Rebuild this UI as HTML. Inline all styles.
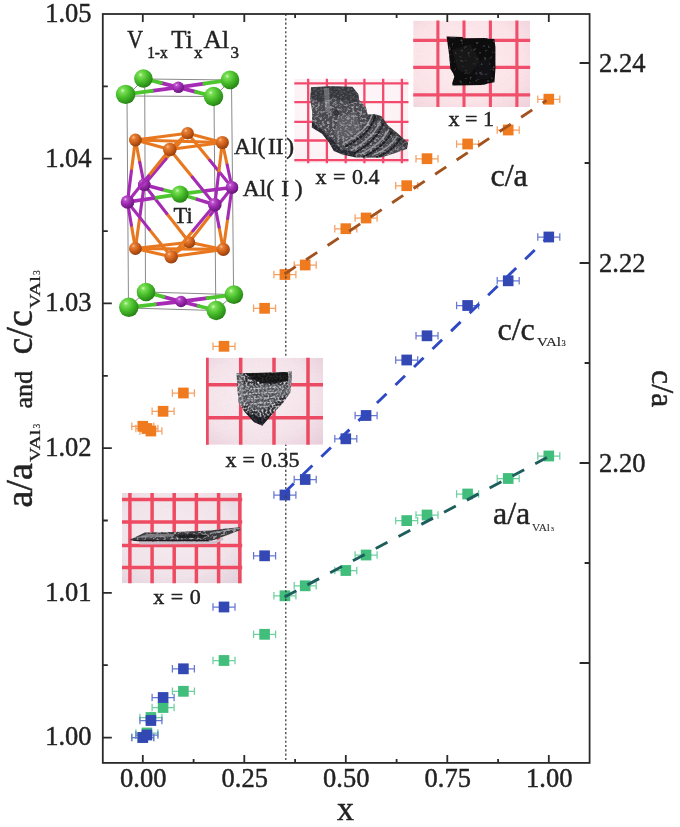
<!DOCTYPE html>
<html><head><meta charset="utf-8"><title>V1-xTixAl3 lattice parameters</title>
<style>html,body{margin:0;padding:0;background:#fff}body{width:680px;height:827px;overflow:hidden;font-family:"Liberation Serif",serif}svg{display:block;filter:blur(0.45px)}text{stroke:#222;stroke-width:0.45px;paint-order:stroke}</style>
</head><body>
<svg width="680" height="827" viewBox="0 0 680 827">
<defs>
<radialGradient id="sg_g" cx="0.35" cy="0.3" r="0.78"><stop offset="0" stop-color="#d4fbc2"/><stop offset="0.14" stop-color="#7adf55"/><stop offset="0.5" stop-color="#46bb29"/><stop offset="0.85" stop-color="#2b8e18"/><stop offset="1" stop-color="#1e6c10"/></radialGradient>
<radialGradient id="sg_p" cx="0.35" cy="0.3" r="0.78"><stop offset="0" stop-color="#edc0f2"/><stop offset="0.16" stop-color="#bb4fcb"/><stop offset="0.5" stop-color="#9a28ad"/><stop offset="0.85" stop-color="#701a82"/><stop offset="1" stop-color="#4f105c"/></radialGradient>
<radialGradient id="sg_o" cx="0.35" cy="0.3" r="0.78"><stop offset="0" stop-color="#fbc79a"/><stop offset="0.16" stop-color="#e98238"/><stop offset="0.5" stop-color="#cf611a"/><stop offset="0.85" stop-color="#9f440f"/><stop offset="1" stop-color="#76300a"/></radialGradient>

<filter id="soft" x="-5%" y="-5%" width="110%" height="110%"><feGaussianBlur stdDeviation="0.65"/></filter>
<filter id="soft2" x="-5%" y="-5%" width="110%" height="110%"><feGaussianBlur stdDeviation="0.55"/></filter>
<filter id="grain" x="0" y="0" width="100%" height="100%"><feTurbulence type="fractalNoise" baseFrequency="0.9" numOctaves="2" seed="9" result="n"/><feColorMatrix in="n" type="matrix" values="0 0 0 0 0.6  0 0 0 0 0.4  0 0 0 0 0.5  1.6 0 0 0 -0.45" result="g"/><feComposite in="g" in2="SourceGraphic" operator="in"/></filter>
<filter id="texA" x="-5%" y="-5%" width="110%" height="110%"><feGaussianBlur in="SourceGraphic" stdDeviation="0.55" result="s"/><feTurbulence type="fractalNoise" baseFrequency="0.3 0.5" numOctaves="3" seed="4" result="n"/><feColorMatrix in="n" type="matrix" values="0 0 0 0 0.55  0 0 0 0 0.55  0 0 0 0 0.5700000000000001  2.6 0 0 0 -1.3" result="g"/><feComposite in="g" in2="s" operator="in" result="t"/><feMerge><feMergeNode in="s"/><feMergeNode in="t"/></feMerge></filter><filter id="texB" x="-5%" y="-5%" width="110%" height="110%"><feGaussianBlur in="SourceGraphic" stdDeviation="0.55" result="s"/><feTurbulence type="fractalNoise" baseFrequency="0.5" numOctaves="3" seed="7" result="n"/><feColorMatrix in="n" type="matrix" values="0 0 0 0 0.75  0 0 0 0 0.75  0 0 0 0 0.77  3.0 0 0 0 -1.4" result="g"/><feComposite in="g" in2="s" operator="in" result="t"/><feMerge><feMergeNode in="s"/><feMergeNode in="t"/></feMerge></filter><filter id="texC" x="-5%" y="-5%" width="110%" height="110%"><feGaussianBlur in="SourceGraphic" stdDeviation="0.55" result="s"/><feTurbulence type="fractalNoise" baseFrequency="0.4 0.45" numOctaves="3" seed="11" result="n"/><feColorMatrix in="n" type="matrix" values="0 0 0 0 0.5  0 0 0 0 0.5  0 0 0 0 0.52  2.2 0 0 0 -1.08" result="g"/><feComposite in="g" in2="s" operator="in" result="t"/><feMerge><feMergeNode in="s"/><feMergeNode in="t"/></feMerge></filter><filter id="texD" x="-5%" y="-5%" width="110%" height="110%"><feGaussianBlur in="SourceGraphic" stdDeviation="0.55" result="s"/><feTurbulence type="fractalNoise" baseFrequency="0.25" numOctaves="3" seed="2" result="n"/><feColorMatrix in="n" type="matrix" values="0 0 0 0 0.15  0 0 0 0 0.15  0 0 0 0 0.16999999999999998  2.0 0 0 0 -1.25" result="g"/><feComposite in="g" in2="s" operator="in" result="t"/><feMerge><feMergeNode in="s"/><feMergeNode in="t"/></feMerge></filter></defs>
<rect width="680" height="827" fill="#ffffff"/>
<path stroke="#6fd0a0" stroke-width="1.25" fill="none" d="M131.8 737.5H153.8M131.8 733.8V741.2M153.8 733.8V741.2"/>
<path stroke="#6fd0a0" stroke-width="1.25" fill="none" d="M135.9 733H157.9M135.9 729.3V736.7M157.9 729.3V736.7"/>
<path stroke="#6fd0a0" stroke-width="1.25" fill="none" d="M139.9 717.5H161.9M139.9 713.8V721.2M161.9 713.8V721.2"/>
<path stroke="#6fd0a0" stroke-width="1.25" fill="none" d="M152.1 707.5H174.1M152.1 703.8V711.2M174.1 703.8V711.2"/>
<path stroke="#6fd0a0" stroke-width="1.25" fill="none" d="M172.4 691.25H194.4M172.4 687.55V694.95M194.4 687.55V694.95"/>
<path stroke="#6fd0a0" stroke-width="1.25" fill="none" d="M213.0 660.5H235.0M213.0 656.8V664.2M235.0 656.8V664.2"/>
<path stroke="#6fd0a0" stroke-width="1.25" fill="none" d="M253.6 634.25H275.6M253.6 630.55V637.95M275.6 630.55V637.95"/>
<path stroke="#6fd0a0" stroke-width="1.25" fill="none" d="M273.9 595.75H295.9M273.9 592.05V599.45M295.9 592.05V599.45"/>
<path stroke="#6fd0a0" stroke-width="1.25" fill="none" d="M294.2 585.75H316.2M294.2 582.05V589.45M316.2 582.05V589.45"/>
<path stroke="#6fd0a0" stroke-width="1.25" fill="none" d="M334.8 570.5H356.8M334.8 566.8V574.2M356.8 566.8V574.2"/>
<path stroke="#6fd0a0" stroke-width="1.25" fill="none" d="M355.1 555H377.1M355.1 551.3V558.7M377.1 551.3V558.7"/>
<path stroke="#6fd0a0" stroke-width="1.25" fill="none" d="M395.7 520.6H417.7M395.7 516.9V524.3000000000001M417.7 516.9V524.3000000000001"/>
<path stroke="#6fd0a0" stroke-width="1.25" fill="none" d="M416.0 515H438.0M416.0 511.3V518.7M438.0 511.3V518.7"/>
<path stroke="#6fd0a0" stroke-width="1.25" fill="none" d="M456.6 494H478.6M456.6 490.3V497.7M478.6 490.3V497.7"/>
<path stroke="#6fd0a0" stroke-width="1.25" fill="none" d="M497.2 478.5H519.2M497.2 474.8V482.2M519.2 474.8V482.2"/>
<path stroke="#6fd0a0" stroke-width="1.25" fill="none" d="M537.8 456H559.8M537.8 452.3V459.7M559.8 452.3V459.7"/>
<rect x="137.5" y="732.1" width="10.6" height="10.8" fill="#41bd7c"/>
<rect x="141.6" y="727.6" width="10.6" height="10.8" fill="#41bd7c"/>
<rect x="145.6" y="712.1" width="10.6" height="10.8" fill="#41bd7c"/>
<rect x="157.8" y="702.1" width="10.6" height="10.8" fill="#41bd7c"/>
<rect x="178.1" y="685.9" width="10.6" height="10.8" fill="#41bd7c"/>
<rect x="218.7" y="655.1" width="10.6" height="10.8" fill="#41bd7c"/>
<rect x="259.3" y="628.9" width="10.6" height="10.8" fill="#41bd7c"/>
<rect x="279.6" y="590.4" width="10.6" height="10.8" fill="#41bd7c"/>
<rect x="299.9" y="580.4" width="10.6" height="10.8" fill="#41bd7c"/>
<rect x="340.5" y="565.1" width="10.6" height="10.8" fill="#41bd7c"/>
<rect x="360.8" y="549.6" width="10.6" height="10.8" fill="#41bd7c"/>
<rect x="401.4" y="515.2" width="10.6" height="10.8" fill="#41bd7c"/>
<rect x="421.7" y="509.6" width="10.6" height="10.8" fill="#41bd7c"/>
<rect x="462.3" y="488.6" width="10.6" height="10.8" fill="#41bd7c"/>
<rect x="502.9" y="473.1" width="10.6" height="10.8" fill="#41bd7c"/>
<rect x="543.5" y="450.6" width="10.6" height="10.8" fill="#41bd7c"/>
<path stroke="#6678d2" stroke-width="1.25" fill="none" d="M131.8 737.5H153.8M131.8 733.8V741.2M153.8 733.8V741.2"/>
<path stroke="#6678d2" stroke-width="1.25" fill="none" d="M135.9 735H157.9M135.9 731.3V738.7M157.9 731.3V738.7"/>
<path stroke="#6678d2" stroke-width="1.25" fill="none" d="M139.9 720.5H161.9M139.9 716.8V724.2M161.9 716.8V724.2"/>
<path stroke="#6678d2" stroke-width="1.25" fill="none" d="M152.1 697.5H174.1M152.1 693.8V701.2M174.1 693.8V701.2"/>
<path stroke="#6678d2" stroke-width="1.25" fill="none" d="M172.4 668.75H194.4M172.4 665.05V672.45M194.4 665.05V672.45"/>
<path stroke="#6678d2" stroke-width="1.25" fill="none" d="M213.0 607H235.0M213.0 603.3V610.7M235.0 603.3V610.7"/>
<path stroke="#6678d2" stroke-width="1.25" fill="none" d="M253.6 555.75H275.6M253.6 552.05V559.45M275.6 552.05V559.45"/>
<path stroke="#6678d2" stroke-width="1.25" fill="none" d="M273.9 495H295.9M273.9 491.3V498.7M295.9 491.3V498.7"/>
<path stroke="#6678d2" stroke-width="1.25" fill="none" d="M294.2 479.5H316.2M294.2 475.8V483.2M316.2 475.8V483.2"/>
<path stroke="#6678d2" stroke-width="1.25" fill="none" d="M334.8 438.75H356.8M334.8 435.05V442.45M356.8 435.05V442.45"/>
<path stroke="#6678d2" stroke-width="1.25" fill="none" d="M355.1 415.5H377.1M355.1 411.8V419.2M377.1 411.8V419.2"/>
<path stroke="#6678d2" stroke-width="1.25" fill="none" d="M395.7 360H417.7M395.7 356.3V363.7M417.7 356.3V363.7"/>
<path stroke="#6678d2" stroke-width="1.25" fill="none" d="M416.0 335.75H438.0M416.0 332.05V339.45M438.0 332.05V339.45"/>
<path stroke="#6678d2" stroke-width="1.25" fill="none" d="M456.6 305.5H478.6M456.6 301.8V309.2M478.6 301.8V309.2"/>
<path stroke="#6678d2" stroke-width="1.25" fill="none" d="M497.2 280.75H519.2M497.2 277.05V284.45M519.2 277.05V284.45"/>
<path stroke="#6678d2" stroke-width="1.25" fill="none" d="M537.8 237H559.8M537.8 233.3V240.7M559.8 233.3V240.7"/>
<rect x="137.5" y="732.1" width="10.6" height="10.8" fill="#3448b4"/>
<rect x="141.6" y="729.6" width="10.6" height="10.8" fill="#3448b4"/>
<rect x="145.6" y="715.1" width="10.6" height="10.8" fill="#3448b4"/>
<rect x="157.8" y="692.1" width="10.6" height="10.8" fill="#3448b4"/>
<rect x="178.1" y="663.4" width="10.6" height="10.8" fill="#3448b4"/>
<rect x="218.7" y="601.6" width="10.6" height="10.8" fill="#3448b4"/>
<rect x="259.3" y="550.4" width="10.6" height="10.8" fill="#3448b4"/>
<rect x="279.6" y="489.6" width="10.6" height="10.8" fill="#3448b4"/>
<rect x="299.9" y="474.1" width="10.6" height="10.8" fill="#3448b4"/>
<rect x="340.5" y="433.4" width="10.6" height="10.8" fill="#3448b4"/>
<rect x="360.8" y="410.1" width="10.6" height="10.8" fill="#3448b4"/>
<rect x="401.4" y="354.6" width="10.6" height="10.8" fill="#3448b4"/>
<rect x="421.7" y="330.4" width="10.6" height="10.8" fill="#3448b4"/>
<rect x="462.3" y="300.1" width="10.6" height="10.8" fill="#3448b4"/>
<rect x="502.9" y="275.4" width="10.6" height="10.8" fill="#3448b4"/>
<rect x="543.5" y="231.6" width="10.6" height="10.8" fill="#3448b4"/>
<path stroke="#f6a062" stroke-width="1.25" fill="none" d="M131.8 426.25H153.8M131.8 422.55V429.95M153.8 422.55V429.95"/>
<path stroke="#f6a062" stroke-width="1.25" fill="none" d="M135.9 428.5H157.9M135.9 424.8V432.2M157.9 424.8V432.2"/>
<path stroke="#f6a062" stroke-width="1.25" fill="none" d="M139.9 431H161.9M139.9 427.3V434.7M161.9 427.3V434.7"/>
<path stroke="#f6a062" stroke-width="1.25" fill="none" d="M152.1 411.25H174.1M152.1 407.55V414.95M174.1 407.55V414.95"/>
<path stroke="#f6a062" stroke-width="1.25" fill="none" d="M172.4 393H194.4M172.4 389.3V396.7M194.4 389.3V396.7"/>
<path stroke="#f6a062" stroke-width="1.25" fill="none" d="M213.0 346.25H235.0M213.0 342.55V349.95M235.0 342.55V349.95"/>
<path stroke="#f6a062" stroke-width="1.25" fill="none" d="M253.6 308.25H275.6M253.6 304.55V311.95M275.6 304.55V311.95"/>
<path stroke="#f6a062" stroke-width="1.25" fill="none" d="M273.9 274.5H295.9M273.9 270.8V278.2M295.9 270.8V278.2"/>
<path stroke="#f6a062" stroke-width="1.25" fill="none" d="M294.2 265H316.2M294.2 261.3V268.7M316.2 261.3V268.7"/>
<path stroke="#f6a062" stroke-width="1.25" fill="none" d="M334.8 228.75H356.8M334.8 225.05V232.45M356.8 225.05V232.45"/>
<path stroke="#f6a062" stroke-width="1.25" fill="none" d="M355.1 218H377.1M355.1 214.3V221.7M377.1 214.3V221.7"/>
<path stroke="#f6a062" stroke-width="1.25" fill="none" d="M395.7 185.75H417.7M395.7 182.05V189.45M417.7 182.05V189.45"/>
<path stroke="#f6a062" stroke-width="1.25" fill="none" d="M416.0 158.75H438.0M416.0 155.05V162.45M438.0 155.05V162.45"/>
<path stroke="#f6a062" stroke-width="1.25" fill="none" d="M456.6 144H478.6M456.6 140.3V147.7M478.6 140.3V147.7"/>
<path stroke="#f6a062" stroke-width="1.25" fill="none" d="M497.2 130H519.2M497.2 126.3V133.7M519.2 126.3V133.7"/>
<path stroke="#f6a062" stroke-width="1.25" fill="none" d="M537.8 99.25H559.8M537.8 95.55V102.95M559.8 95.55V102.95"/>
<rect x="137.5" y="420.9" width="10.6" height="10.8" fill="#f07a1e"/>
<rect x="141.6" y="423.1" width="10.6" height="10.8" fill="#f07a1e"/>
<rect x="145.6" y="425.6" width="10.6" height="10.8" fill="#f07a1e"/>
<rect x="157.8" y="405.9" width="10.6" height="10.8" fill="#f07a1e"/>
<rect x="178.1" y="387.6" width="10.6" height="10.8" fill="#f07a1e"/>
<rect x="218.7" y="340.9" width="10.6" height="10.8" fill="#f07a1e"/>
<rect x="259.3" y="302.9" width="10.6" height="10.8" fill="#f07a1e"/>
<rect x="279.6" y="269.1" width="10.6" height="10.8" fill="#f07a1e"/>
<rect x="299.9" y="259.6" width="10.6" height="10.8" fill="#f07a1e"/>
<rect x="340.5" y="223.3" width="10.6" height="10.8" fill="#f07a1e"/>
<rect x="360.8" y="212.6" width="10.6" height="10.8" fill="#f07a1e"/>
<rect x="401.4" y="180.3" width="10.6" height="10.8" fill="#f07a1e"/>
<rect x="421.7" y="153.3" width="10.6" height="10.8" fill="#f07a1e"/>
<rect x="462.3" y="138.6" width="10.6" height="10.8" fill="#f07a1e"/>
<rect x="502.9" y="124.6" width="10.6" height="10.8" fill="#f07a1e"/>
<rect x="543.5" y="93.8" width="10.6" height="10.8" fill="#f07a1e"/>
<line x1="285.8" y1="14.0" x2="285.8" y2="762.9" stroke="#3a3a3a" stroke-width="1.25" stroke-dasharray="2.1 2.2"/>
<clipPath id="cp_a"><rect x="122" y="493" width="120.2" height="90.3"/></clipPath>
<clipPath id="cc_a"><polygon points="129.3,540.0 144.8,532.5 174.6,532.1 210.3,530.5 226.2,528.5 239.7,527.3 240.5,530.1 226.2,535.6 214.3,540.0 208.3,541.6 138.8,541.6"/></clipPath>
<radialGradient id="bg_a" cx="0.45" cy="0.45" r="0.8"><stop offset="0" stop-color="#f8eff3"/><stop offset="0.6" stop-color="#f2e5eb"/><stop offset="1" stop-color="#e0cedb"/></radialGradient>
<g clip-path="url(#cp_a)">
<rect x="122" y="493" width="120.2" height="90.3" fill="url(#bg_a)"/>
<rect x="122" y="493" width="120.2" height="90.3" fill="#e59aad" opacity="0.1" filter="url(#grain)"/>
<g filter="url(#soft)" stroke="#ee4c62" stroke-width="3.5" fill="none">
<path d="M129.9 490V586.3M152.1 490V586.3M174.2 490V586.3M196.4 490V586.3M218.6 490V586.3M239.8 490V586.3M119 499.5H245.2M119 522.1H245.2M119 545.6H245.2M119 567.4H245.2"/></g>
<path d="M138.8 542.0L214.3 541.2L223.2 537.6L223.2 540.0L214.3 544.0L139.8 544.4Z" fill="#cbbfca" filter="url(#soft)"/>
<g filter="url(#texA)"><polygon points="129.3,540.0 144.8,532.5 174.6,532.1 210.3,530.5 226.2,528.5 239.7,527.3 240.5,530.1 226.2,535.6 214.3,540.0 208.3,541.6 138.8,541.6" fill="#3a3a40"/></g>
<g clip-path="url(#cc_a)" filter="url(#soft2)"><path d="M134.9 538.0L146.8 534.1L174.6 534.1L172.6 536.4L150.7 537.6Z" fill="#8c8c94" opacity="0.75"/><path d="M174.6 535.3L190.4 534.1L208.3 534.9L202.4 537.6L178.5 538.0Z" fill="#17171b" opacity="0.8"/><path d="M210.3 533.3L234.1 528.9L239.3 528.5" stroke="#a0a0a8" stroke-width="1.2" fill="none" opacity="0.8"/><path d="M132.9 540.4L208.3 540.4" stroke="#1b1b20" stroke-width="1.4" fill="none"/></g>
</g>
<clipPath id="cp_b"><rect x="206" y="357.8" width="117.0" height="87.0"/></clipPath>
<clipPath id="cc_b"><polygon points="236.5,373.2 261.2,372.8 287.7,371.9 291.4,371.0 292.1,374.8 290.3,392.4 283.2,402.8 272.7,413.8 262.3,425.7 254.1,422.2 244.0,411.2 238.7,402.8 237.4,389.1"/></clipPath>
<radialGradient id="bg_b" cx="0.45" cy="0.45" r="0.8"><stop offset="0" stop-color="#fcf2f5"/><stop offset="0.6" stop-color="#f6e6ec"/><stop offset="1" stop-color="#e8cdd9"/></radialGradient>
<g clip-path="url(#cp_b)">
<rect x="206" y="357.8" width="117.0" height="87.0" fill="url(#bg_b)"/>
<rect x="206" y="357.8" width="117.0" height="87.0" fill="#e59aad" opacity="0.14" filter="url(#grain)"/>
<g filter="url(#soft)" stroke="#ec4a62" stroke-width="3.5" fill="none">
<path d="M207.0 354.8V447.8M240.7 354.8V447.8M274 354.8V447.8M308 354.8V447.8M203 384.7H326M203 417.8H326"/></g>

<g filter="url(#texB)"><polygon points="236.5,373.2 261.2,372.8 287.7,371.9 291.4,371.0 292.1,374.8 290.3,392.4 283.2,402.8 272.7,413.8 262.3,425.7 254.1,422.2 244.0,411.2 238.7,402.8 237.4,389.1" fill="#2f2f35"/></g>
<g clip-path="url(#cc_b)" filter="url(#soft2)"><path d="M245.7 373.2L287.7 371.9L288.8 380.3L274.4 383.8L261.2 382.9L250.2 378.1Z" fill="#0c0c10" opacity="0.85"/><path d="M238.7 383.6L261.2 385.2L284.3 384.3L288.8 392.4L272.2 404.6L261.2 411.2L250.2 407.9L241.3 400.2Z" fill="#80808a" opacity="0.42"/><path d="M246.8 389.1L283.2 386.9M245.7 394.0L282.1 391.8M247.9 398.8L278.8 397.1M251.3 403.7L272.2 402.4" stroke="#d5d5dc" stroke-width="1" fill="none" opacity="0.8" stroke-dasharray="2 1.2"/><path d="M237.4 373.7L242.2 373.7L244.0 409.0L238.7 402.8Z" fill="#b5b5bd" opacity="0.35"/><path d="M288.5 371.9L292.1 371.5L290.3 392.4L287.2 395.7Z" fill="#9c9ca4" opacity="0.55"/><path d="M244.0 411.2L254.1 422.2L262.3 425.7L272.7 413.8L263.4 417.8L252.4 414.5Z" fill="#121217" opacity="0.75"/></g>
</g>
<clipPath id="cp_c"><rect x="294.3" y="78.7" width="114.2" height="84.5"/></clipPath>
<clipPath id="cc_c"><polygon points="311.0,87.3 330.4,86.1 352.4,86.8 358.3,94.1 359.2,100.0 366.0,107.6 367.6,114.4 374.4,114.0 381.2,116.1 387.9,125.4 398.1,133.8 408.2,143.1 406.9,149.0 394.7,153.3 381.2,157.5 367.6,157.8 355.8,157.5 342.3,154.4 333.8,151.1 328.8,142.3 322.0,133.8 311.8,127.4 312.2,111.8 310.1,98.3"/></clipPath>
<radialGradient id="bg_c" cx="0.45" cy="0.45" r="0.8"><stop offset="0" stop-color="#fffafc"/><stop offset="0.7" stop-color="#fdf3f6"/><stop offset="1" stop-color="#f9e9ef"/></radialGradient>
<g clip-path="url(#cp_c)">
<rect x="294.3" y="78.7" width="114.2" height="84.5" fill="url(#bg_c)"/>
<rect x="294.3" y="78.7" width="114.2" height="84.5" fill="#e59aad" opacity="0.03" filter="url(#grain)"/>
<g filter="url(#soft)" stroke="#f24a6c" stroke-width="2.3" fill="none">
<path d="M308.2 75.7V166.2M326.9 75.7V166.2M345.7 75.7V166.2M364.4 75.7V166.2M383.2 75.7V166.2M401.9 75.7V166.2M291.3 83.4H411.5M291.3 102.2H411.5M291.3 121.8H411.5M291.3 140.5H411.5M291.3 160.2H411.5"/></g>

<g filter="url(#texC)"><polygon points="311.0,87.3 330.4,86.1 352.4,86.8 358.3,94.1 359.2,100.0 366.0,107.6 367.6,114.4 374.4,114.0 381.2,116.1 387.9,125.4 398.1,133.8 408.2,143.1 406.9,149.0 394.7,153.3 381.2,157.5 367.6,157.8 355.8,157.5 342.3,154.4 333.8,151.1 328.8,142.3 322.0,133.8 311.8,127.4 312.2,111.8 310.1,98.3" fill="#484850"/></g>
<g clip-path="url(#cc_c)" filter="url(#soft2)"><path d="M311.0 87.3L352.4 86.8L358.3 94.1L359.2 100.0L350.7 103.4L333.8 98.3L320.3 101.7L310.5 98.3Z" fill="#2b2b31" opacity="0.55"/><path d="M323.7 88.1L329.1 88.1L330.4 113.5L325.4 111.8Z" fill="#a0a0a8" opacity="0.45"/><path d="M338.9 116.9L355.8 111.8L360.9 128.7L344.0 142.3L333.8 133.8Z" fill="#8b8b93" opacity="0.28"/><path d="M311.8 127.4L322.0 133.8L328.8 142.3L333.8 151.1L342.3 154.4L355.8 157.5L355.8 152.4L340.6 149.0L332.1 138.9L320.3 128.7L312.2 122.0Z" fill="#15151a" opacity="0.6"/><path d="M366.0 107.6L367.6 114.4L381.2 116.1L408.2 143.1L406.9 149.0L401.5 145.6L379.5 122.0L366.8 118.6Z" fill="#202026" opacity="0.45"/><path d="M375.3 115.5Q371.0 133.8 345.3 146.5" stroke="#17171c" stroke-width="2.0" fill="none" opacity="0.9" stroke-dasharray="3.5 0.6"/><path d="M372.6 112.8Q368.3 131.1 342.6 143.8" stroke="#a9a9b2" stroke-width="1.5" fill="none" opacity="0.75"/><path d="M383.2 123.3Q376.9 140.6 353.8 153.3" stroke="#17171c" stroke-width="2.0" fill="none" opacity="0.9" stroke-dasharray="3.5 0.6"/><path d="M380.5 120.6Q374.2 137.9 351.1 150.6" stroke="#a9a9b2" stroke-width="1.5" fill="none" opacity="0.75"/><path d="M391.7 131.8Q384.6 146.5 362.9 157.1" stroke="#17171c" stroke-width="2.0" fill="none" opacity="0.9" stroke-dasharray="3.5 0.6"/><path d="M389.0 129.1Q381.9 143.8 360.2 154.4" stroke="#a9a9b2" stroke-width="1.5" fill="none" opacity="0.75"/><path d="M400.1 138.5Q393.0 150.7 376.1 157.5" stroke="#17171c" stroke-width="2.0" fill="none" opacity="0.9" stroke-dasharray="3.5 0.6"/><path d="M397.4 135.8Q390.3 148.0 373.4 154.8" stroke="#a9a9b2" stroke-width="1.5" fill="none" opacity="0.75"/><circle cx="336.4" cy="112.8" r="2.3" fill="#3a3a41" stroke="#26262c" stroke-width="0.9"/></g>
</g>
<clipPath id="cp_d"><rect x="413.2" y="20.6" width="117.0" height="86.5"/></clipPath>
<clipPath id="cc_d"><polygon points="446.6,36.6 462.6,36.9 463.1,38.2 486.8,38.0 487.9,38.8 494.5,39.1 495.4,47.0 495.4,69.1 494.5,82.3 487.9,83.4 483.5,85.1 452.6,85.6 452.1,83.4 454.3,76.8 453.2,73.5 450.4,69.1 448.8,52.6"/></clipPath>
<radialGradient id="bg_d" cx="0.45" cy="0.45" r="0.8"><stop offset="0" stop-color="#fff1f3"/><stop offset="0.6" stop-color="#fde6ea"/><stop offset="1" stop-color="#f0d2dc"/></radialGradient>
<g clip-path="url(#cp_d)">
<rect x="413.2" y="20.6" width="117.0" height="86.5" fill="url(#bg_d)"/>
<rect x="413.2" y="20.6" width="117.0" height="86.5" fill="#e59aad" opacity="0.12" filter="url(#grain)"/>
<g filter="url(#soft)" stroke="#f0506c" stroke-width="3.1" fill="none">
<path d="M437.9 17.6V110.1M464 17.6V110.1M490.4 17.6V110.1M516.9 17.6V110.1M410.2 40.4H533.2M410.2 67.4H533.2M410.2 94.9H533.2"/></g>

<g filter="url(#texD)"><polygon points="446.6,36.6 462.6,36.9 463.1,38.2 486.8,38.0 487.9,38.8 494.5,39.1 495.4,47.0 495.4,69.1 494.5,82.3 487.9,83.4 483.5,85.1 452.6,85.6 452.1,83.4 454.3,76.8 453.2,73.5 450.4,69.1 448.8,52.6" fill="#0d0d10"/></g>
<g clip-path="url(#cc_d)" filter="url(#soft2)"><path d="M452 50L470 44L480 60L470 75L458 70Z" fill="#2a2a30" opacity="0.3"/><path d="M474 62L490 58L492 78L476 80Z" fill="#26262b" opacity="0.25"/></g>
</g>
<g id="crystal" stroke-linecap="round">
<g stroke="#8a8a8a" stroke-width="1" fill="none"><path d="M127 96L128.5 308M144.7 79L145.5 292M214 96.5L215.8 310.5M231.5 80L233.6 294.6"/><path d="M127 96L214 96.5L231.5 80L144.7 79Z"/><path d="M128.5 308L215.8 310.5L233.6 294.6L145.5 292Z"/></g>
<line x1="178.3" y1="87.3" x2="160.9" y2="82.9" stroke="#a52bb5" stroke-width="3.8"/>
<line x1="160.9" y1="82.9" x2="143.4" y2="78.5" stroke="#4cc52e" stroke-width="3.8"/>
<line x1="178.3" y1="87.3" x2="204.2" y2="83.6" stroke="#a52bb5" stroke-width="3.8"/>
<line x1="204.2" y1="83.6" x2="230" y2="79.9" stroke="#4cc52e" stroke-width="3.8"/>
<circle cx="143.4" cy="78.5" r="9.3" fill="url(#sg_g)"/>
<circle cx="230" cy="79.9" r="9.3" fill="url(#sg_g)"/>
<line x1="178.3" y1="87.3" x2="151.9" y2="90.8" stroke="#a52bb5" stroke-width="3.8"/>
<line x1="151.9" y1="90.8" x2="125.6" y2="94.4" stroke="#4cc52e" stroke-width="3.8"/>
<line x1="178.3" y1="87.3" x2="195.9" y2="91.9" stroke="#a52bb5" stroke-width="3.8"/>
<line x1="195.9" y1="91.9" x2="213.5" y2="96.5" stroke="#4cc52e" stroke-width="3.8"/>
<circle cx="178.3" cy="87.3" r="5.8" fill="url(#sg_p)"/>
<circle cx="125.6" cy="94.4" r="9.7" fill="url(#sg_g)"/>
<circle cx="213.5" cy="96.5" r="9.7" fill="url(#sg_g)"/>
<line x1="181" y1="301.5" x2="163.5" y2="296.8" stroke="#a52bb5" stroke-width="3.8"/>
<line x1="163.5" y1="296.8" x2="146" y2="292" stroke="#4cc52e" stroke-width="3.8"/>
<line x1="181" y1="301.5" x2="207.4" y2="298.1" stroke="#a52bb5" stroke-width="3.8"/>
<line x1="207.4" y1="298.1" x2="233.9" y2="294.6" stroke="#4cc52e" stroke-width="3.8"/>
<circle cx="146" cy="292" r="9.3" fill="url(#sg_g)"/>
<circle cx="233.9" cy="294.6" r="9.3" fill="url(#sg_g)"/>
<line x1="181" y1="301.5" x2="154.9" y2="304.4" stroke="#a52bb5" stroke-width="3.8"/>
<line x1="154.9" y1="304.4" x2="128.8" y2="307.3" stroke="#4cc52e" stroke-width="3.8"/>
<line x1="181" y1="301.5" x2="198.6" y2="306.0" stroke="#a52bb5" stroke-width="3.8"/>
<line x1="198.6" y1="306.0" x2="216.2" y2="310.5" stroke="#4cc52e" stroke-width="3.8"/>
<circle cx="181" cy="301.5" r="5.8" fill="url(#sg_p)"/>
<circle cx="128.8" cy="307.3" r="9.7" fill="url(#sg_g)"/>
<circle cx="216.2" cy="310.5" r="9.7" fill="url(#sg_g)"/>
<line x1="187.6" y1="133.2" x2="165.9" y2="159.0" stroke="#e8781f" stroke-width="3.1"/>
<line x1="165.9" y1="159.0" x2="144.2" y2="184.8" stroke="#a52bb5" stroke-width="3.1"/>
<line x1="187.6" y1="133.2" x2="209.8" y2="160.3" stroke="#e8781f" stroke-width="3.1"/>
<line x1="209.8" y1="160.3" x2="232" y2="187.5" stroke="#a52bb5" stroke-width="3.1"/>
<line x1="189.2" y1="242.2" x2="166.7" y2="213.5" stroke="#e8781f" stroke-width="3.1"/>
<line x1="166.7" y1="213.5" x2="144.2" y2="184.8" stroke="#a52bb5" stroke-width="3.1"/>
<line x1="189.2" y1="242.2" x2="210.6" y2="214.8" stroke="#e8781f" stroke-width="3.1"/>
<line x1="210.6" y1="214.8" x2="232" y2="187.5" stroke="#a52bb5" stroke-width="3.1"/>
<line x1="135.4" y1="140" x2="139.8" y2="162.4" stroke="#e8781f" stroke-width="3.1"/>
<line x1="139.8" y1="162.4" x2="144.2" y2="184.8" stroke="#a52bb5" stroke-width="3.1"/>
<line x1="222.3" y1="142.5" x2="227.2" y2="165.0" stroke="#e8781f" stroke-width="3.1"/>
<line x1="227.2" y1="165.0" x2="232" y2="187.5" stroke="#a52bb5" stroke-width="3.1"/>
<line x1="135.4" y1="248.5" x2="139.8" y2="216.7" stroke="#e8781f" stroke-width="3.1"/>
<line x1="139.8" y1="216.7" x2="144.2" y2="184.8" stroke="#a52bb5" stroke-width="3.1"/>
<line x1="223.3" y1="249.4" x2="227.7" y2="218.4" stroke="#e8781f" stroke-width="3.1"/>
<line x1="227.7" y1="218.4" x2="232" y2="187.5" stroke="#a52bb5" stroke-width="3.1"/>
<line x1="135.4" y1="140" x2="187.6" y2="133.2" stroke="#e8781f" stroke-width="3.1"/>
<line x1="187.6" y1="133.2" x2="222.3" y2="142.5" stroke="#e8781f" stroke-width="3.1"/>
<line x1="135.4" y1="248.5" x2="189.2" y2="242.2" stroke="#e8781f" stroke-width="3.1"/>
<line x1="189.2" y1="242.2" x2="223.3" y2="249.4" stroke="#e8781f" stroke-width="3.1"/>
<line x1="135.4" y1="140" x2="222.3" y2="142.5" stroke="#e8781f" stroke-width="3.1"/>
<line x1="187.6" y1="133.2" x2="169.8" y2="149.5" stroke="#e8781f" stroke-width="3.1"/>
<line x1="135.4" y1="248.5" x2="223.3" y2="249.4" stroke="#e8781f" stroke-width="3.1"/>
<line x1="189.2" y1="242.2" x2="171.2" y2="256.8" stroke="#e8781f" stroke-width="3.1"/>
<circle cx="189.2" cy="242.2" r="6.0" fill="url(#sg_o)"/>
<circle cx="187.6" cy="133.2" r="6.2" fill="url(#sg_o)"/>
<circle cx="144.2" cy="184.8" r="6.2" fill="url(#sg_p)"/>
<circle cx="232" cy="187.5" r="6.2" fill="url(#sg_p)"/>
<line x1="179.9" y1="194.1" x2="162.1" y2="189.4" stroke="#4cc52e" stroke-width="3.6"/>
<line x1="162.1" y1="189.4" x2="144.2" y2="184.8" stroke="#a52bb5" stroke-width="3.6"/>
<line x1="179.9" y1="194.1" x2="205.9" y2="190.8" stroke="#4cc52e" stroke-width="3.6"/>
<line x1="205.9" y1="190.8" x2="232" y2="187.5" stroke="#a52bb5" stroke-width="3.6"/>
<circle cx="144.2" cy="184.8" r="6.2" fill="url(#sg_p)"/>
<circle cx="232" cy="187.5" r="6.2" fill="url(#sg_p)"/>
<line x1="179.9" y1="194.1" x2="153.7" y2="198.1" stroke="#4cc52e" stroke-width="3.6"/>
<line x1="153.7" y1="198.1" x2="127.5" y2="202" stroke="#a52bb5" stroke-width="3.6"/>
<line x1="179.9" y1="194.1" x2="197.4" y2="199.4" stroke="#4cc52e" stroke-width="3.6"/>
<line x1="197.4" y1="199.4" x2="214.8" y2="204.7" stroke="#a52bb5" stroke-width="3.6"/>
<circle cx="179.9" cy="194.1" r="8.6" fill="url(#sg_g)"/>
<line x1="135.4" y1="140" x2="131.4" y2="171.0" stroke="#e8781f" stroke-width="3.1"/>
<line x1="131.4" y1="171.0" x2="127.5" y2="202" stroke="#a52bb5" stroke-width="3.1"/>
<line x1="222.3" y1="142.5" x2="218.6" y2="173.6" stroke="#e8781f" stroke-width="3.1"/>
<line x1="218.6" y1="173.6" x2="214.8" y2="204.7" stroke="#a52bb5" stroke-width="3.1"/>
<line x1="135.4" y1="248.5" x2="131.4" y2="225.2" stroke="#e8781f" stroke-width="3.1"/>
<line x1="131.4" y1="225.2" x2="127.5" y2="202" stroke="#a52bb5" stroke-width="3.1"/>
<line x1="223.3" y1="249.4" x2="219.1" y2="227.1" stroke="#e8781f" stroke-width="3.1"/>
<line x1="219.1" y1="227.1" x2="214.8" y2="204.7" stroke="#a52bb5" stroke-width="3.1"/>
<line x1="169.8" y1="149.5" x2="148.7" y2="175.8" stroke="#e8781f" stroke-width="3.1"/>
<line x1="148.7" y1="175.8" x2="127.5" y2="202" stroke="#a52bb5" stroke-width="3.1"/>
<line x1="169.8" y1="149.5" x2="192.3" y2="177.1" stroke="#e8781f" stroke-width="3.1"/>
<line x1="192.3" y1="177.1" x2="214.8" y2="204.7" stroke="#a52bb5" stroke-width="3.1"/>
<line x1="171.2" y1="256.8" x2="149.3" y2="229.4" stroke="#e8781f" stroke-width="3.1"/>
<line x1="149.3" y1="229.4" x2="127.5" y2="202" stroke="#a52bb5" stroke-width="3.1"/>
<line x1="171.2" y1="256.8" x2="193.0" y2="230.8" stroke="#e8781f" stroke-width="3.1"/>
<line x1="193.0" y1="230.8" x2="214.8" y2="204.7" stroke="#a52bb5" stroke-width="3.1"/>
<line x1="135.4" y1="140" x2="169.8" y2="149.5" stroke="#e8781f" stroke-width="3.1"/>
<line x1="169.8" y1="149.5" x2="222.3" y2="142.5" stroke="#e8781f" stroke-width="3.1"/>
<line x1="135.4" y1="248.5" x2="171.2" y2="256.8" stroke="#e8781f" stroke-width="3.1"/>
<line x1="171.2" y1="256.8" x2="223.3" y2="249.4" stroke="#e8781f" stroke-width="3.1"/>
<circle cx="135.4" cy="140" r="6.4" fill="url(#sg_o)"/>
<circle cx="222.3" cy="142.5" r="6.6" fill="url(#sg_o)"/>
<circle cx="169.8" cy="149.5" r="6.8" fill="url(#sg_o)"/>
<circle cx="135.4" cy="248.5" r="6.4" fill="url(#sg_o)"/>
<circle cx="223.3" cy="249.4" r="6.6" fill="url(#sg_o)"/>
<circle cx="171.2" cy="256.8" r="6.8" fill="url(#sg_o)"/>
<circle cx="127.5" cy="202" r="6.8" fill="url(#sg_p)"/>
<circle cx="214.8" cy="204.7" r="6.8" fill="url(#sg_p)"/>
</g>
<g font-family="Liberation Serif, serif" font-size="23.5" fill="#222"><text x="234" y="153.6">Al(</text><text x="268" y="153.6" textLength="15.5" lengthAdjust="spacingAndGlyphs">II</text><text x="286.3" y="153.6">)</text><text x="242.8" y="196.2">Al(</text><text x="281.2" y="196.2">I</text><text x="294.8" y="196.2">)</text></g>
<text font-family="Liberation Serif, serif" font-size="22.5" fill="#222" x="173.6" y="222.9">Ti</text>
<line x1="284.6" y1="597" x2="548" y2="457" stroke="#1d5e5c" stroke-width="2.9" stroke-dasharray="13.3 12.5"/>
<line x1="284.3" y1="492.7" x2="548.4" y2="236.8" stroke="#2f49c4" stroke-width="2.9" stroke-dasharray="13.3 12.5"/>
<line x1="284.6" y1="274.0" x2="546.5" y2="100.4" stroke="#a2521f" stroke-width="2.9" stroke-dasharray="13.3 12.5"/>
<g stroke="#2a2a2a" stroke-width="1.8" fill="none">
<rect x="102.8" y="14.0" width="486.8" height="748.9"/>
<path d="M142.8 762.9v-8M142.8 14.0v8M193.6 762.9v-4M193.6 14.0v4M244.3 762.9v-8M244.3 14.0v8M295.1 762.9v-4M295.1 14.0v4M345.8 762.9v-8M345.8 14.0v8M396.6 762.9v-4M396.6 14.0v4M447.3 762.9v-8M447.3 14.0v8M498.1 762.9v-4M498.1 14.0v4M548.8 762.9v-8M548.8 14.0v8M102.8 737.6h9M102.8 665.2h5M102.8 592.9h9M102.8 520.5h5M102.8 448.2h9M102.8 375.8h5M102.8 303.4h9M102.8 231.1h5M102.8 158.7h9M102.8 86.4h5M589.6 663.0h-10M589.6 563.0h-5M589.6 463.0h-10M589.6 363.0h-5M589.6 263.0h-10M589.6 163.0h-5M589.6 63.0h-10"/>
</g>
<g font-family="Liberation Serif, serif" font-size="26.5" fill="#222">
<text x="91.6" y="745.4" text-anchor="end">1.00</text>
<text x="91.6" y="600.7" text-anchor="end">1.01</text>
<text x="91.6" y="456.0" text-anchor="end">1.02</text>
<text x="91.6" y="311.2" text-anchor="end">1.03</text>
<text x="91.6" y="166.5" text-anchor="end">1.04</text>
<text x="91.6" y="21.8" text-anchor="end">1.05</text>
<text x="143.3" y="786.6" text-anchor="middle">0.00</text>
<text x="244.8" y="786.6" text-anchor="middle">0.25</text>
<text x="346.3" y="786.6" text-anchor="middle">0.50</text>
<text x="447.8" y="786.6" text-anchor="middle">0.75</text>
<text x="549.3" y="786.6" text-anchor="middle">1.00</text>
<text x="599" y="471.8">2.20</text>
<text x="599" y="271.8">2.22</text>
<text x="599" y="71.8">2.24</text>
</g>
<text font-family="Liberation Serif, serif" font-size="34" fill="#222" x="345.5" y="819.5" text-anchor="middle">x</text>
<text font-family="Liberation Serif, serif" font-size="32" fill="#222" transform="translate(651.5 370) rotate(90)">c/a</text>
<g font-family="Liberation Serif, serif" fill="#222" transform="translate(31.8 507.5) rotate(-90)"><text font-size="38" x="0" y="0">a/a</text><text font-size="15" x="45.5" y="8.2" textLength="32.5" lengthAdjust="spacingAndGlyphs" style="stroke-width:0.25px">VAl</text><text font-size="9.5" x="79" y="8.2" style="stroke-width:0.2px">3</text><text font-size="26" x="99" y="0">and</text><text font-size="38" x="153" y="0">c/c</text><text font-size="15" x="199" y="8.2" textLength="32.5" lengthAdjust="spacingAndGlyphs" style="stroke-width:0.25px">VAl</text><text font-size="9.5" x="232.5" y="8.2" style="stroke-width:0.2px">3</text></g>
<text font-family="Liberation Serif, serif" font-size="32" fill="#222" x="490.5" y="186">c/a</text>
<text font-family="Liberation Serif, serif" font-size="32" fill="#222" x="497.5" y="339.5">c/c</text>
<text font-family="Liberation Serif, serif" font-size="13" fill="#222" x="537" y="346" style="stroke-width:0.2px" textLength="24" lengthAdjust="spacingAndGlyphs">VAl</text><text font-family="Liberation Serif, serif" font-size="8.5" fill="#222" x="561.6" y="346" style="stroke-width:0.15px">3</text>
<text font-family="Liberation Serif, serif" font-size="32" fill="#222" x="493" y="524">a/a</text>
<text font-family="Liberation Serif, serif" font-size="9.5" fill="#333" x="532" y="531" style="stroke-width:0.1px" textLength="18" lengthAdjust="spacingAndGlyphs">VAl</text><text font-family="Liberation Serif, serif" font-size="6.5" fill="#333" x="550.8" y="531" style="stroke-width:0.1px">3</text>
<g font-family="Liberation Serif, serif" font-size="22" fill="#222">
<text x="153.3" y="604.2" word-spacing="1">x = 0</text>
<text x="225.5" y="466.6" word-spacing="0.5">x = 0.35</text>
<text x="315.5" y="183.8" word-spacing="1">x = 0.4</text>
<text x="448.5" y="126">x = 1</text>
</g>
<g font-family="Liberation Serif, serif" fill="#222"><text font-size="25" x="127.3" y="48.3" textLength="15.8" lengthAdjust="spacingAndGlyphs">V</text><text font-size="17" x="147.2" y="57.8" textLength="20.5" lengthAdjust="spacingAndGlyphs">1-x</text><text font-size="25" x="171.3" y="48.3">Ti</text><text font-size="17" x="194" y="57.8">x</text><text font-size="25.5" x="203.6" y="48.3">Al</text><text font-size="17" x="230.6" y="57.8">3</text></g>
</svg>
</body></html>
